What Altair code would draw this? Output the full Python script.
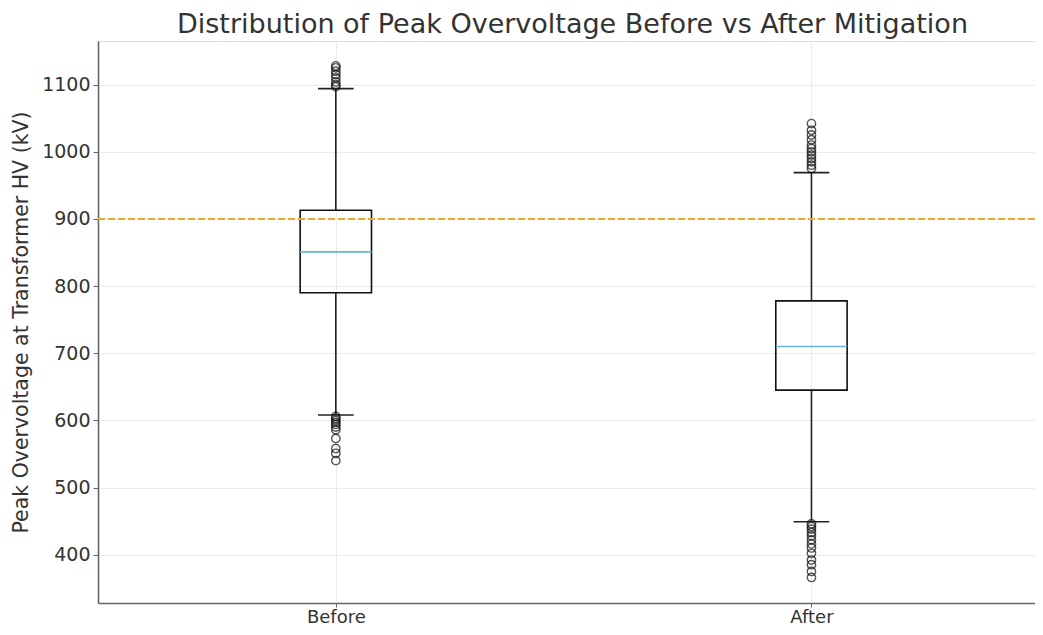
import altair as alt
import pandas as pd

# ---- data ----
categories = ["Before", "After"]
positions = [1, 2]
whisker_lo = [608, 449]
q1 = [790, 645]
median = [851, 710]
q3 = [913, 778]
whisker_hi = [1094, 969]

outliers_before = [1097, 1100, 1104, 1110, 1115, 1120, 1125, 1128,
                   606, 603, 600, 597, 594, 590, 586, 573, 558, 551, 540]
outliers_after = [975, 980, 985, 990, 995, 1000, 1005, 1010, 1018, 1025, 1032, 1042,
                  446, 442, 438, 433, 428, 422, 416, 410, 402, 392, 385, 375, 366]
threshold = [900]

y_ticks = [400, 500, 600, 700, 800, 900, 1000, 1100]

boxes = pd.DataFrame({
    "cat": categories, "pos": positions, "lo": whisker_lo, "q1": q1,
    "med": median, "q3": q3, "hi": whisker_hi,
})
outl = pd.DataFrame({
    "pos": [1] * len(outliers_before) + [2] * len(outliers_after),
    "val": outliers_before + outliers_after,
})
thr = pd.DataFrame({"val": threshold})

xscale = alt.Scale(domain=[0.5, 2.47], nice=False, zero=False)
yscale = alt.Scale(domain=[328, 1165], nice=False, zero=False)

FONT = "DejaVu Sans"

xaxis = alt.Axis(values=positions, labelExpr="datum.value == 1 ? 'Before' : 'After'",
                 title=None, grid=True, gridColor="#ebebeb", gridWidth=1,
                 domainColor="#666666", domainWidth=1.6, tickColor="#666666",
                 tickSize=4, labelPadding=1, labelFontSize=18, labelColor="#333333",
                 labelFont=FONT)
yaxis = alt.Axis(values=y_ticks, format="d", title="Peak Overvoltage at Transformer HV (kV)",
                 grid=True, gridColor="#ebebeb", gridWidth=1,
                 domainColor="#666666", domainWidth=1.6, tickColor="#666666",
                 tickSize=5, labelPadding=3, labelFontSize=19, labelColor="#333333",
                 labelFont=FONT, titleFont=FONT, titleFontSize=20.5,
                 titleFontWeight="normal", titleColor="#333333", titlePadding=10)

base = alt.Chart(boxes).transform_calculate(
    bl="datum.pos - 0.075", br="datum.pos + 0.075",
    cl="datum.pos - 0.0375", cr="datum.pos + 0.0375",
)

grid_layer = alt.Chart(boxes).mark_point(opacity=0).encode(
    x=alt.X("pos:Q", scale=xscale, axis=xaxis),
    y=alt.Y("med:Q", scale=yscale, axis=yaxis),
)

LINE = "#222222"
whisk_low = base.mark_rule(color=LINE, strokeWidth=1.6).encode(
    x=alt.X("pos:Q", scale=xscale), y=alt.Y("lo:Q", scale=yscale), y2="q1:Q")
whisk_high = base.mark_rule(color=LINE, strokeWidth=1.6).encode(
    x=alt.X("pos:Q", scale=xscale), y=alt.Y("q3:Q", scale=yscale), y2="hi:Q")
cap_low = base.mark_rule(color=LINE, strokeWidth=1.6).encode(
    x=alt.X("cl:Q", scale=xscale), x2="cr:Q", y=alt.Y("lo:Q", scale=yscale))
cap_high = base.mark_rule(color=LINE, strokeWidth=1.6).encode(
    x=alt.X("cl:Q", scale=xscale), x2="cr:Q", y=alt.Y("hi:Q", scale=yscale))
box = base.mark_rect(fill="white", fillOpacity=0, stroke="#111111", strokeWidth=1.6).encode(
    x=alt.X("bl:Q", scale=xscale), x2="br:Q",
    y=alt.Y("q1:Q", scale=yscale), y2="q3:Q")
med = base.mark_rule(color="#6bb3dd", strokeWidth=1.6).encode(
    x=alt.X("bl:Q", scale=xscale), x2="br:Q", y=alt.Y("med:Q", scale=yscale))

pts = alt.Chart(outl).mark_point(shape="circle", filled=False, color="#111111",
                                 size=70, strokeWidth=1.4).encode(
    x=alt.X("pos:Q", scale=xscale), y=alt.Y("val:Q", scale=yscale))

thr_line = alt.Chart(thr).mark_rule(color="#eaa83a", strokeWidth=2,
                                    strokeDash=[7, 3]).encode(
    y=alt.Y("val:Q", scale=yscale))

chart = alt.layer(grid_layer, whisk_low, whisk_high, cap_low, cap_high, box, med,
                  pts, thr_line).properties(
    width=937, height=562,
    padding={"left": 90, "top": 33, "right": 0, "bottom": 24},
    autosize=alt.AutoSizeParams(type="none"),
    title=alt.TitleParams("Distribution of Peak Overvoltage Before vs After Mitigation",
                          font=FONT, fontSize=27, fontWeight="normal",
                          color="#333333", anchor="middle", dx=6, offset=2),
).configure_view(stroke=None).configure(background="white")

chart.save("out.html", embed_options={"renderer": "svg", "actions": False})
